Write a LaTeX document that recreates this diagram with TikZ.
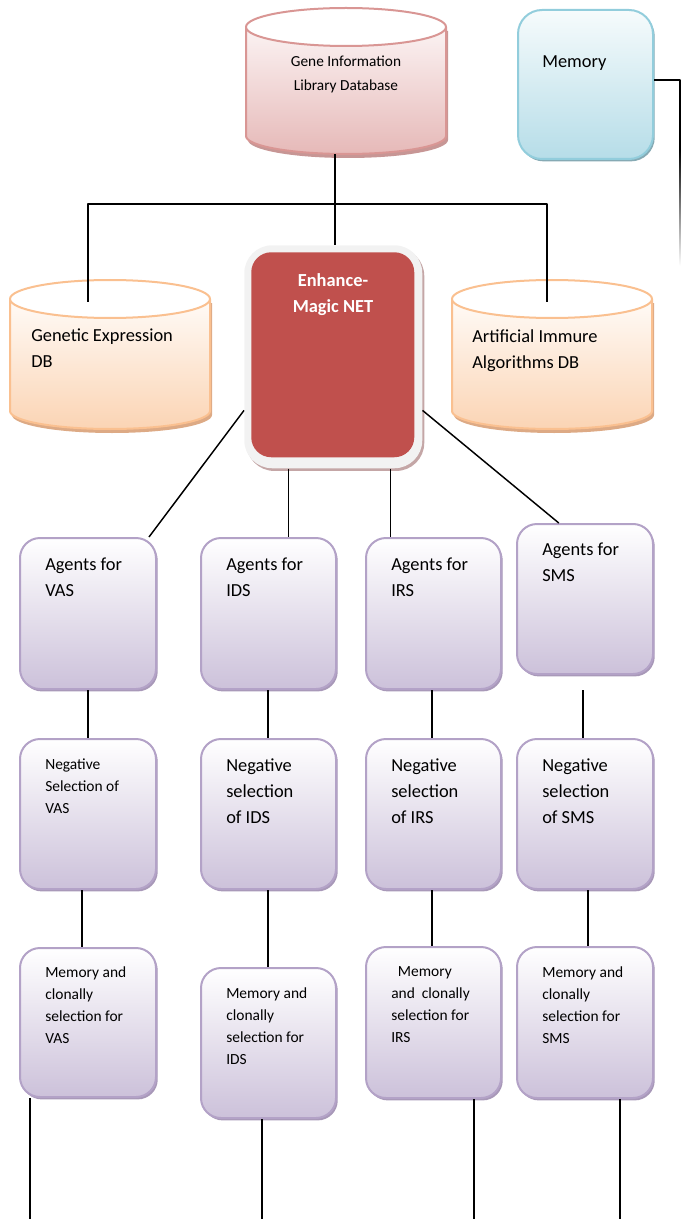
\documentclass[tikz,border=0pt]{standalone}
\usepackage{fontspec}
\setmainfont{Carlito}
\usetikzlibrary{calc,shadows}
\def\pxs{0.75pt}
\definecolor{pborder}{HTML}{B3A2C7}
\definecolor{pfill}{HTML}{CCC1DA}
\definecolor{pshadow}{HTML}{A898B8}
\definecolor{oborder}{HTML}{FAC090}
\definecolor{ofill}{HTML}{FBD4B4}
\definecolor{otop}{HTML}{FFFBF7}
\definecolor{oshadow}{HTML}{DDAA85}
\definecolor{rborder}{HTML}{D99694}
\definecolor{rfill}{HTML}{E6B9B8}
\definecolor{rtop}{HTML}{FBF3F3}
\definecolor{rshadow}{HTML}{C79695}
\definecolor{bborder}{HTML}{92CDDC}
\definecolor{bfill}{HTML}{B6DDE8}
\definecolor{btop}{HTML}{F6FBFC}
\definecolor{bshadow}{HTML}{86AAB4}
\definecolor{enred}{HTML}{C0504D}
\definecolor{enframe}{HTML}{F2F2F2}
\definecolor{enshadow}{HTML}{C4A6A6}
% #1 center x, #2 top ellipse center y, #3 bottom arc center y, #4 border, #5 top, #6 bottom, #7 shadow
\newcommand\dbcyl[7]{%
  \fill[#7] (#1-98,#2+4) -- (#1-98,#3+4) arc[start angle=180,end angle=0,x radius=100,y radius=18] -- (#1+102,#2+4) -- cycle;
  \path[draw=#4,line width=1.5pt,top color=#5,bottom color=#6] (#1-100,#2) -- (#1-100,#3) arc[start angle=180,end angle=0,x radius=100,y radius=18] -- (#1+100,#2) -- cycle;
  \filldraw[fill=white,draw=#4,line width=1.5pt] (#1,#2) ellipse[x radius=100,y radius=19];
}
\begin{document}
\begin{tikzpicture}[x=0.75pt,y=-0.75pt,line join=round,
  conn/.style={draw=black,line width=1.1pt},
  pbox/.style={draw=pborder,line width=1.5pt,rounded corners=15pt,top color=white,bottom color=pfill,anchor=north west,inner sep=0,
    drop shadow={shadow xshift=1.3pt,shadow yshift=-1.8pt,opacity=1,fill=pshadow}},
  big/.style={font=\fontsize{13.8}{19.5}\selectfont,align=left,anchor=north west,inner sep=0},
  small/.style={font=\fontsize{11.6}{16.5}\selectfont,align=left,anchor=north west,inner sep=0},
  hole/.style={inner sep=0,minimum width=200*\pxs}
]
\useasboundingbox (0,0) rectangle (681,1219);

% ---------- databases ----------
\dbcyl{346}{27}{136}{rborder}{rtop}{rfill}{rshadow}
\node[hole,minimum height=146*\pxs] (gene) at (346,81) {};
\node[font=\fontsize{11.5}{18}\selectfont,align=center,anchor=north,inner sep=0] (genet) at (346,56) {Gene Information\\Library Database};

\dbcyl{110}{299}{411}{oborder}{otop}{ofill}{oshadow}
\node[hole,minimum height=149*\pxs] (gedb) at (110,354.5) {};
\node[big] (gedbt) at (31,329) {Genetic Expression\\DB};

\dbcyl{552}{299}{411}{oborder}{otop}{ofill}{oshadow}
\node[hole,minimum height=149*\pxs] (aidb) at (552,354.5) {};
\node[big] (aidbt) at (472,329) {Artificial Immure\\Algorithms DB};

% ---------- memory ----------
\node[draw=bborder,line width=1.5pt,rounded corners=18pt,top color=btop,bottom color=bfill,anchor=north west,inner sep=0,
  minimum width=135*\pxs,minimum height=149*\pxs,
  drop shadow={shadow xshift=1.3pt,shadow yshift=-1.8pt,opacity=1,fill=bshadow}] (mem) at (517,9) {};
\node[big] (memt) at (542,55) {Memory};

% ---------- Enhance-Magic NET ----------
\node[fill=enframe,rounded corners=21pt,anchor=north west,inner sep=0,minimum width=178*\pxs,minimum height=223*\pxs,
  drop shadow={shadow xshift=1.5pt,shadow yshift=-2pt,opacity=1,fill=enshadow}] (enhf) at (244,245) {};
\node[fill=enred,rounded corners=15pt,anchor=north west,inner sep=0,minimum width=163*\pxs,minimum height=205*\pxs] (enh) at (251,252) {};
\node[font=\fontsize{13.8}{19.5}\selectfont\bfseries,text=white,align=center,anchor=north,inner sep=0] (enht) at (333,273) {Enhance-\\Magic NET};

% ---------- agent boxes ----------
\node[pbox,minimum width=136*\pxs,minimum height=151*\pxs] (a1) at (19,537) {};
\node[pbox,minimum width=135*\pxs,minimum height=151*\pxs] (a2) at (200,537) {};
\node[pbox,minimum width=135*\pxs,minimum height=151*\pxs] (a3) at (365,537) {};
\node[pbox,minimum width=136*\pxs,minimum height=150*\pxs] (a4) at (516,523) {};
\node[big] (a1t) at (45,558) {Agents for\\VAS};
\node[big] (a2t) at (226,558) {Agents for\\IDS};
\node[big] (a3t) at (391,558) {Agents for\\IRS};
\node[big] (a4t) at (542,543) {Agents for\\SMS};

\node[pbox,minimum width=136*\pxs,minimum height=150*\pxs] (n1) at (19,738) {};
\node[pbox,minimum width=135*\pxs,minimum height=150*\pxs] (n2) at (200,738) {};
\node[pbox,minimum width=135*\pxs,minimum height=150*\pxs] (n3) at (365,738) {};
\node[pbox,minimum width=136*\pxs,minimum height=150*\pxs] (n4) at (516,738) {};
\node[small] (n1t) at (45,759) {Negative\\Selection of\\VAS};
\node[big] (n2t) at (226,759) {Negative\\selection\\of IDS};
\node[big] (n3t) at (391,759) {Negative\\selection\\of IRS};
\node[big] (n4t) at (542,759) {Negative\\selection\\of SMS};

\node[pbox,minimum width=136*\pxs,minimum height=149*\pxs] (m1) at (19,947) {};
\node[pbox,minimum width=135*\pxs,minimum height=150*\pxs] (m2) at (200,967) {};
\node[pbox,minimum width=135*\pxs,minimum height=151*\pxs] (m3) at (365,946) {};
\node[pbox,minimum width=136*\pxs,minimum height=151*\pxs] (m4) at (516,946) {};
\node[small] (m1t) at (45,966) {Memory and\\clonally\\selection for\\VAS};
\node[small] (m2t) at (226,987) {Memory and\\clonally\\selection for\\IDS};
\node[small] (m3t) at (391,966) {\hspace{5pt}Memory\\and\ \ clonally\\selection for\\IRS};
\node[small] (m4t) at (542,966) {Memory and\\clonally\\selection for\\SMS};

% ---------- connectors ----------
\coordinate (tj) at (335,204);
\coordinate (gein) at ($(gedb.north)+(-22,22)$);
\coordinate (aiin) at ($(aidb.north)+(-5,22)$);
\draw[conn] (gene.south -| tj) -- (enhf.north -| tj);
\draw[conn] (gein) |- (tj) -| (aiin);

\coordinate (mc1) at (680,80);
\coordinate (mc2) at (680,150);
\draw[conn] (mem.east |- mc1) -- (mc1) -- (mc2);
\shade[top color=black,bottom color=white] (679.3,150) rectangle (680.8,266);

\draw[conn] ($(enhf.south west)!0.26!(enhf.north west)$) -- ($(a1.north east)+(-8,0)$);
\draw[conn] ($(enhf.south east)!0.26!(enhf.north east)$) -- ($(a4.north west)!0.31!(a4.north east)$);
\coordinate (v2) at ($(enhf.south west)!0.25!(enhf.south east)$);
\coordinate (v3) at ($(enhf.south west)!0.82!(enhf.south east)$);
\draw[conn] (v2) -- (a2.north -| v2);
\draw[conn] (v3) -- (a3.north -| v3);

\draw[conn] (a1.south -| 88,0) -- (n1.north -| 88,0);
\draw[conn] (a2.south -| 268,0) -- (n2.north -| 268,0);
\draw[conn] (a3.south -| 432,0) -- (n3.north -| 432,0);
\coordinate (a4d) at ($(a4.south -| 583,0)+(0,15)$);
\draw[conn] (a4d) -- (n4.north -| a4d);

\draw[conn] (n1.south -| 82,0) -- (m1.north -| 82,0);
\draw[conn] (n2.south -| 268,0) -- (m2.north -| 268,0);
\draw[conn] (n3.south -| 432,0) -- (m3.north -| 432,0);
\draw[conn] (n4.south -| 588,0) -- (m4.north -| 588,0);

\coordinate (e1) at (30,1219);
\coordinate (e2) at (262,1219);
\coordinate (e3) at (474,1219);
\coordinate (e4) at (620,1219);
\draw[conn] (m1.south -| e1) -- (e1);
\draw[conn] (m2.south -| e2) -- (e2);
\draw[conn] (m3.south -| e3) -- (e3);
\draw[conn] (m4.south -| e4) -- (e4);
\end{tikzpicture}
\end{document}
